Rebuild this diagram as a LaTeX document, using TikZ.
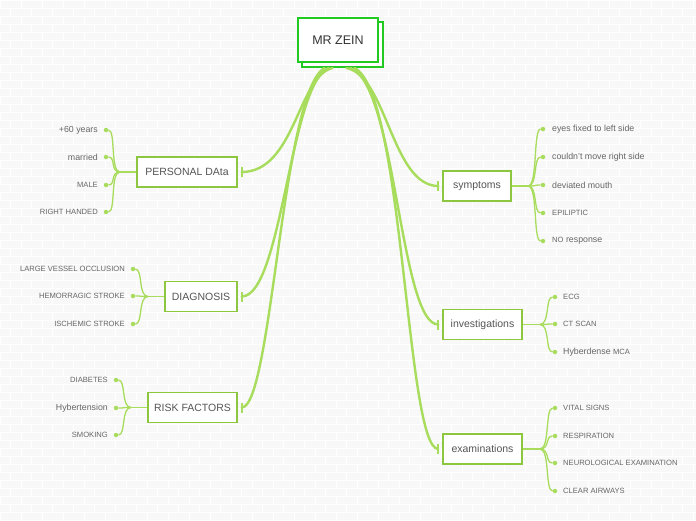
\documentclass[tikz,border=0pt]{standalone}
\usepackage{fontspec}
\setmainfont{Liberation Sans}
\definecolor{linegreen}{HTML}{A8DC5C}
\definecolor{boxgreen}{HTML}{8DC63F}
\definecolor{topgreen}{HTML}{22C922}
\definecolor{txt}{HTML}{555555}
\definecolor{leaftxt}{HTML}{666666}
\definecolor{brick}{HTML}{F8F8F8}
\newcommand{\ucsize}[1]{{\fontsize{7.6}{8}\selectfont #1}}
\begin{document}
\begin{tikzpicture}[x=1pt,y=-1pt,
  sub/.style={draw=boxgreen, line width=1.4pt, fill=white, inner sep=0pt, minimum height=30pt, text=txt, font=\fontsize{10.5}{11}\selectfont},
  topbox/.style={draw=topgreen, line width=2pt, fill=white, inner sep=0pt, minimum width=80pt, minimum height=44pt},
  leaf/.style={text=leaftxt, font=\fontsize{8.8}{9}\selectfont, inner sep=0pt},
  mainline/.style={line width=2.4pt, draw=linegreen, line cap=round},
  branch/.style={line width=1.3pt, draw=linegreen},
  bar/.style={line width=2pt, draw=linegreen},
  leafdot/.style={circle, fill=linegreen, inner sep=0pt, minimum size=4.5pt}
]
\useasboundingbox (0,0) rectangle (696,520);
% background bricks
\fill[brick] (0,0) rectangle (696,520);
\foreach \r in {0,...,64}{
  \draw[white, line width=1pt] (0,{\r*8}) -- (696,{\r*8});
  \pgfmathsetmacro{\off}{mod(\r,2)*10.5}
  \foreach \c in {0,...,33}{
    \draw[white, line width=1pt] ({\c*21+\off},{\r*8}) -- ({\c*21+\off},{\r*8+8});
  }
}
% central node
\node[topbox, minimum width=81pt, minimum height=45pt] (sh) at (342.5,44.5) {};
\node[topbox, text=txt!60!black, font=\fontsize{12.5}{13}\selectfont] (mz) at (338,40) {MR ZEIN};

% sub nodes
\node[sub, minimum width=100pt] (pd) at (187,172) {PERSONAL DAta};
\node[sub, minimum width=72pt] (dg) at (201,296.5) {DIAGNOSIS};
\node[sub, minimum width=89pt] (rf) at (192.5,407.5) {RISK FACTORS};
\node[sub, minimum width=68pt] (sy) at (477,186) {symptoms};
\node[sub, minimum width=79pt] (iv) at (482.5,324.5) {investigations};
\node[sub, minimum width=79pt] (ex) at (482.5,449) {examinations};

% main connectors
\draw[mainline] ([xshift=-10pt]sh.south) .. controls (298,76) and (295,172) .. ([xshift=4pt]pd.east);
\draw[mainline] ([xshift=-14pt]sh.south) .. controls (290,84) and (282,296.5) .. ([xshift=4pt]dg.east);
\draw[mainline] ([xshift=-18pt]sh.south) .. controls (282,92) and (272,407.5) .. ([xshift=4pt]rf.east);
\draw[mainline] ([xshift=4pt]sh.south) .. controls (387,76) and (392,186) .. ([xshift=-4pt]sy.west);
\draw[mainline] ([xshift=8pt]sh.south) .. controls (396,84) and (400,324.5) .. ([xshift=-4pt]iv.west);
\draw[mainline] ([xshift=12pt]sh.south) .. controls (404,92) and (406,449) .. ([xshift=-4pt]ex.west);
\foreach \n in {pd,dg,rf}{
  \draw[bar] ([xshift=4pt,yshift=-5pt]\n.east) -- ([xshift=4pt,yshift=5pt]\n.east);
}
\foreach \n in {sy,iv,ex}{
  \draw[bar] ([xshift=-4pt,yshift=-5pt]\n.west) -- ([xshift=-4pt,yshift=5pt]\n.west);
}

% PERSONAL DATA leaves
\coordinate (jpd) at (120,172);
\draw[branch] (pd.west) -- (jpd);
\foreach \y/\t [count=\i] in {130/{+60 years},157/{married},185/{\ucsize{MALE}},212/{\ucsize{RIGHT HANDED}}}{
  \node[leafdot] (pd\i) at (106,\y) {};
  \node[leaf, anchor=east] (pdl\i) at (98,\y) {\t};
  \draw[branch] (jpd) .. controls +(-10,0) and +(10,0) .. (pd\i);
}
% DIAGNOSIS leaves
\coordinate (jdg) at (148,296.5);
\draw[branch] (dg.west) -- (jdg);
\foreach \y/\t [count=\i] in {269/{\ucsize{LARGE VESSEL OCCLUSION}},296/{\ucsize{HEMORRAGIC STROKE}},324/{\ucsize{ISCHEMIC STROKE}}}{
  \node[leafdot] (dg\i) at (133,\y) {};
  \node[leaf, anchor=east] (dgl\i) at (125,\y) {\t};
  \draw[branch] (jdg) .. controls +(-10,0) and +(10,0) .. (dg\i);
}
% RISK FACTORS leaves
\coordinate (jrf) at (131,407.5);
\draw[branch] (rf.west) -- (jrf);
\foreach \y/\t [count=\i] in {380/{\ucsize{DIABETES}},408/{Hybertension},435/{\ucsize{SMOKING}}}{
  \node[leafdot] (rf\i) at (116,\y) {};
  \node[leaf, anchor=east] (rfl\i) at (108,\y) {\t};
  \draw[branch] (jrf) .. controls +(-10,0) and +(10,0) .. (rf\i);
}
% symptoms leaves
\coordinate (jsy) at (528,186);
\draw[branch] (sy.east) -- (jsy);
\foreach \y/\t [count=\i] in {129/{eyes fixed to left side},157/{couldn't move right side},185/{deviated mouth},213/{\ucsize{EPILIPTIC}},241/{\ucsize{NO} response}}{
  \node[leafdot] (sy\i) at (543,\y) {};
  \node[leaf, anchor=west] (syl\i) at (552,\y) {\t};
  \draw[branch] (jsy) .. controls +(10,0) and +(-10,0) .. (sy\i);
}
% investigations leaves
\coordinate (jiv) at (540,324.5);
\draw[branch] (iv.east) -- (jiv);
\foreach \y/\t [count=\i] in {297/{\ucsize{ECG}},324/{\ucsize{CT SCAN}},352/{Hyberdense \ucsize{MCA}}}{
  \node[leafdot] (iv\i) at (555,\y) {};
  \node[leaf, anchor=west] (ivl\i) at (563,\y) {\t};
  \draw[branch] (jiv) .. controls +(10,0) and +(-10,0) .. (iv\i);
}
% examinations leaves
\coordinate (jex) at (540,449);
\draw[branch] (ex.east) -- (jex);
\foreach \y/\t [count=\i] in {408/{\ucsize{VITAL SIGNS}},436/{\ucsize{RESPIRATION}},463/{\ucsize{NEUROLOGICAL EXAMINATION}},491/{\ucsize{CLEAR AIRWAYS}}}{
  \node[leafdot] (ex\i) at (555,\y) {};
  \node[leaf, anchor=west] (exl\i) at (563,\y) {\t};
  \draw[branch] (jex) .. controls +(10,0) and +(-10,0) .. (ex\i);
}
\end{tikzpicture}
\end{document}
